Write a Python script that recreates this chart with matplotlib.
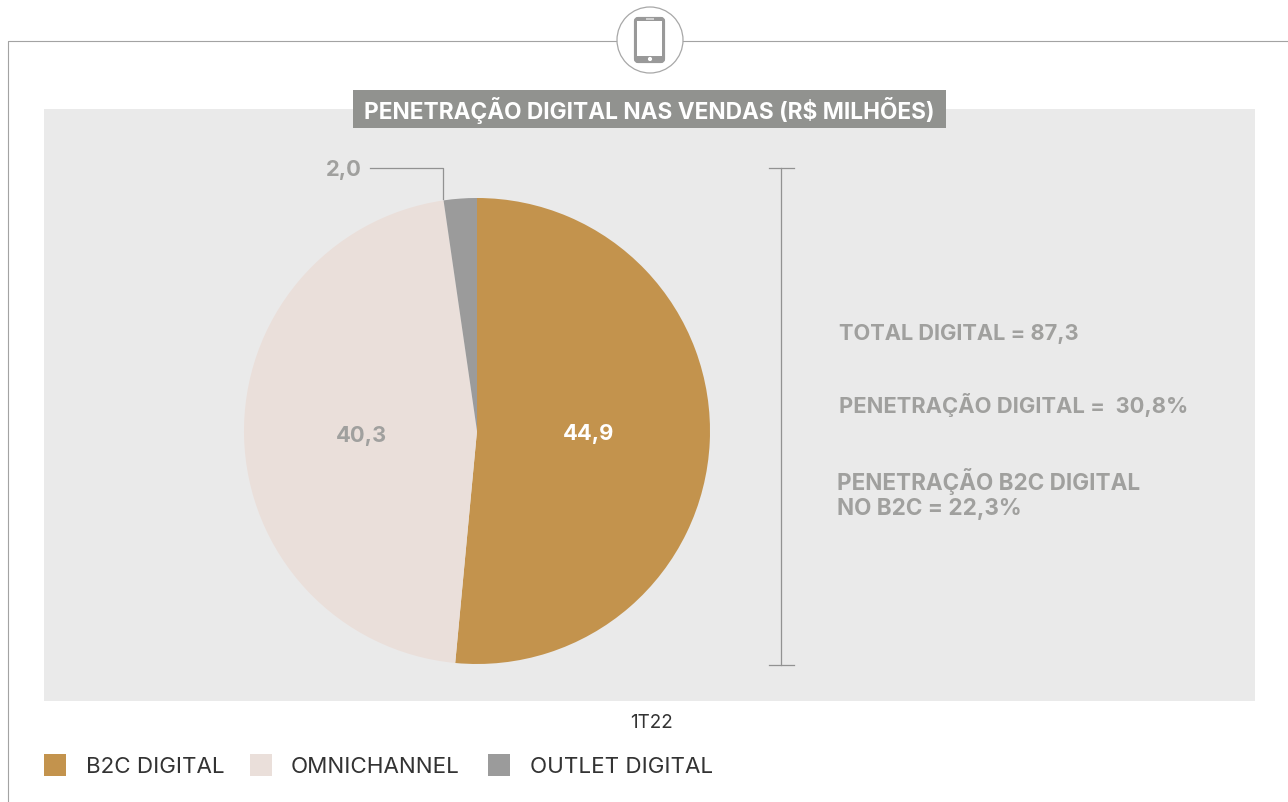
import matplotlib
matplotlib.use('Agg')
import matplotlib.pyplot as plt
from matplotlib.patches import Rectangle, Circle, FancyBboxPatch

plt.rcParams['font.family'] = ['Inter', 'DejaVu Sans']

categories = ['B2C DIGITAL', 'OMNICHANNEL', 'OUTLET DIGITAL']
values = [44.9, 40.3, 2.0]
value_labels = ['44,9', '40,3', '2,0']
colors = ['#c3934d', '#eadfda', '#9b9b9b']
title = 'PENETRAÇÃO DIGITAL NAS VENDAS (R$ MILHÕES)'
period = '1T22'
notes = ['TOTAL DIGITAL = 87,3', 'PENETRAÇÃO DIGITAL =  30,8%', 'PENETRAÇÃO B2C DIGITAL\nNO B2C = 22,3%']

W, H = 1288, 802
gray_txt = '#a0a09e'
line_gray = '#929292'


def Y(y):
    # picture coordinates count from the top
    return H - y


fig = plt.figure(figsize=(W / 100, H / 100), dpi=100)
ax = fig.add_axes([0, 0, 1, 1])

ax.pie(values, colors=colors, startangle=90, counterclock=False,
       center=(477, Y(431)), radius=233, wedgeprops={'linewidth': 0, 'zorder': 3})
ax.set_xlim(0, W)
ax.set_ylim(0, H)
ax.set_aspect('equal')
ax.axis('off')

# frame and panel
ax.plot([8, 8, 617], [Y(802), Y(41), Y(41)], color='#a3a3a3', lw=0.8, zorder=1)
ax.plot([683, W], [Y(41), Y(41)], color='#a3a3a3', lw=0.8, zorder=1)
ax.add_patch(Rectangle((44, Y(701)), 1211, 592, fc='#eaeaea', ec='none', zorder=1))
ax.add_patch(Rectangle((353, Y(128)), 593, 38, fc='#91928f', ec='none', zorder=2))
ax.text(649.5, Y(110), title, color='white', fontsize=16.3, fontweight='bold',
        ha='center', va='center', zorder=4)

# tablet icon
ax.add_patch(Circle((650, Y(40)), 33, fc='white', ec='#a8a8a8', lw=0.9, zorder=2))
ax.add_patch(FancyBboxPatch((636, Y(61)), 27, 42, boxstyle='round,pad=0,rounding_size=2',
                            fc='#999999', ec='#999999', lw=3, zorder=3))
ax.add_patch(Rectangle((637, Y(56)), 25, 35, fc='white', ec='none', zorder=4))
ax.add_patch(Circle((650, Y(59)), 2.1, fc='white', ec='none', zorder=4))
ax.add_patch(Rectangle((646, Y(19.5)), 8, 1.2, fc='#cfcfcf', ec='none', zorder=4))

# leader of the small slice
ax.plot([370, 443, 443], [Y(168), Y(168), Y(199)], color=line_gray, lw=0.9, zorder=4)

# bracket
ax.plot([781, 781], [Y(168), Y(665)], color=line_gray, lw=0.9, zorder=2)
ax.plot([769, 794], [Y(168), Y(168)], color=line_gray, lw=0.9, zorder=2)
ax.plot([769, 794], [Y(665), Y(665)], color=line_gray, lw=0.9, zorder=2)

# slice labels
ax.text(588.5, Y(434), value_labels[0], color='white', fontsize=15.8, fontweight='bold',
        ha='center', va='center', zorder=5)
ax.text(361, Y(436), value_labels[1], color=gray_txt, fontsize=15.8, fontweight='bold',
        ha='center', va='center', zorder=5)
ax.text(344, Y(170), value_labels[2], color=gray_txt, fontsize=15.8, fontweight='bold',
        ha='center', va='center', zorder=5)

# side notes
ax.text(839, Y(334), notes[0], color=gray_txt, fontsize=15.7, fontweight='bold', va='center', zorder=5)
ax.text(839, Y(405), notes[1], color=gray_txt, fontsize=15.8, fontweight='bold', va='center', zorder=5)
ax.text(837, Y(494), notes[2], color=gray_txt, fontsize=16.2, fontweight='bold', va='center',
        linespacing=1.2, zorder=5)

ax.text(652, Y(723), period, color='#333333', fontsize=13.6, ha='center', va='center')

# legend
legend_x = [44, 250, 488]
text_x = [86, 291, 530]
for i in range(3):
    ax.add_patch(Rectangle((legend_x[i], Y(776)), 22, 22, fc=colors[i], ec='none'))
    ax.text(text_x[i], Y(767), categories[i], color='#333333', fontsize=16.1, va='center', fontweight='normal')

fig.savefig('out.png', dpi=100)
